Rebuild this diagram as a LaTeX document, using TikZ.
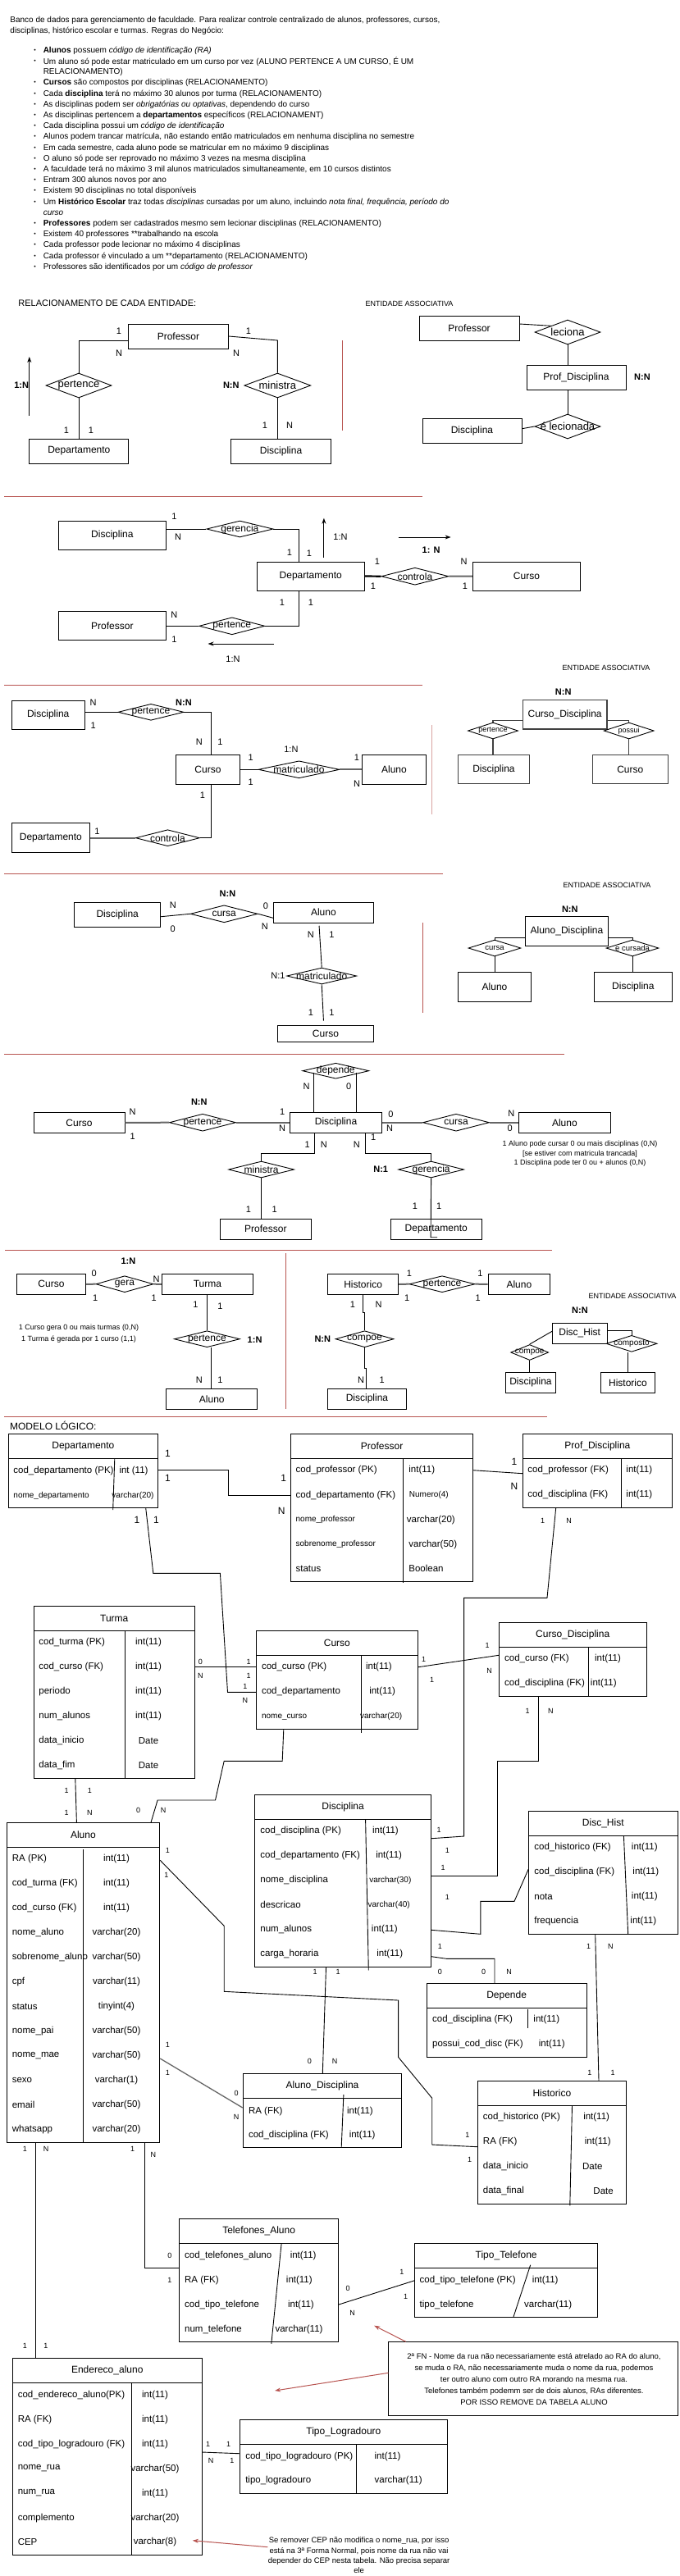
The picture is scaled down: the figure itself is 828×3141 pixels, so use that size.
\documentclass[tikz,border=0pt]{standalone}
\usepackage{fontspec}
\setmainfont{Liberation Sans}
\usetikzlibrary{shapes.geometric,arrows.meta}
\definecolor{redl}{HTML}{B85450}
\definecolor{pinkl}{HTML}{D9A3A1}
\definecolor{thkc}{HTML}{666666}
\newcounter{nn}
\newcommand\myfs[1]{\fontsize{#1}{#1}\selectfont}
\newcommand\mytx[4][]{\stepcounter{nn}\node[#1] (n\arabic{nn}) at (#2,#3) {#4};}
\newcommand\myent[7][]{\node[draw,inner sep=0,font=\myfs{12},minimum width={(#5-#3)*1pt},minimum height={(#6-#4)*1pt},#1] (#2) at ({(#3+#5)/2},{(#4+#6)/2}) {#7};}
\newcommand\mydia[7][12]{\node[draw,diamond,inner sep=0,minimum width=#5pt,minimum height=#6pt,label={[font=\myfs{#1},inner sep=0]center:#7}] (#2) at (#3,#4) {};}
\newcommand\mytab[6]{\node[draw,inner sep=0,minimum width={(#4-#2)*1pt},minimum height={(#5-#3)*1pt}] (#1) at ({(#2+#4)/2},{(#3+#5)/2}) {};
 \draw (#2,#3+30) -- (#4,#3+30);
 \node[font=\myfs{12}] (#1-t) at ({(#2+#4)/2},#3+15) {#6};}
\newcommand\myrow[4][]{\mytx[anchor=west,font=\myfs{11.5},#1]{#2}{#3}{#4}}
\newcommand\myc[4][]{\mytx[font=\myfs{9},#1]{#2}{#3}{#4}}
\tikzset{
  thk/.style={line width=2pt,draw=thkc},
  gbox/.style={line width=1.5pt,draw=black!75},
  rl/.style={line width=1pt,draw=redl},
  pl/.style={line width=1pt,draw=pinkl},
  arr/.style={-{Stealth[length=7pt,width=5pt]}},
  bul/.style={anchor=west,font=\myfs{10}},
  bd/.style={font=\bfseries\myfs{11}},
}
\begin{document}
\begin{tikzpicture}[x=1pt,y=-1pt,line width=0.9pt,every node/.style={font=\myfs{11},inner sep=0pt}]
\useasboundingbox (0,0) rectangle (828,3141);
\fill[white] (0,0) rectangle (828,3141);

% ---------------- header text
\mytx[bul]{12}{25}{Banco de dados para gerenciamento de faculdade. Para realizar controle centralizado de alunos, professores, cursos,}
\mytx[bul]{12}{37.7}{disciplinas, histórico escolar e turmas. Regras do Negócio:}
\foreach \yy in {61.7,74.9,101.3,114.5,127.7,140.9,154.1,167.3,180.5,193.7,206.9,220.1,233.3,246.5,272.9,286.1,299.3,312.5,325.7}{
  \node[font=\myfs{7}] (bl\yy) at (42.7,\yy) {•};}
\mytx[bul]{52.3}{61.7}{\textbf{Alunos} possuem \textit{código de identificação (RA)}}
\mytx[bul]{52.3}{74.9}{Um aluno só pode estar matriculado em um curso por vez (ALUNO PERTENCE A UM CURSO, É UM}
\mytx[bul]{52.3}{88.1}{RELACIONAMENTO)}
\mytx[bul]{52.3}{101.3}{\textbf{Cursos} são compostos por disciplinas (RELACIONAMENTO)}
\mytx[bul]{52.3}{114.5}{Cada \textbf{disciplina} terá no máximo 30 alunos por turma (RELACIONAMENTO)}
\mytx[bul]{52.3}{127.7}{As disciplinas podem ser \textit{obrigatórias ou optativas}, dependendo do curso}
\mytx[bul]{52.3}{140.9}{As disciplinas pertencem a \textbf{departamentos} específicos (RELACIONAMENT)}
\mytx[bul]{52.3}{154.1}{Cada disciplina possui um \textit{código de identificação}}
\mytx[bul]{52.3}{167.3}{Alunos podem trancar matrícula, não estando então matriculados em nenhuma disciplina no semestre}
\mytx[bul]{52.3}{180.5}{Em cada semestre, cada aluno pode se matricular em no máximo 9 disciplinas}
\mytx[bul]{52.3}{193.7}{O aluno só pode ser reprovado no máximo 3 vezes na mesma disciplina}
\mytx[bul]{52.3}{206.9}{A faculdade terá no máximo 3 mil alunos matriculados simultaneamente, em 10 cursos distintos}
\mytx[bul]{52.3}{220.1}{Entram 300 alunos novos por ano}
\mytx[bul]{52.3}{233.3}{Existem 90 disciplinas no total disponíveis}
\mytx[bul]{52.3}{246.5}{Um \textbf{Histórico Escolar} traz todas \textit{disciplinas} cursadas por um aluno, incluindo \textit{nota final, frequência, período do}}
\mytx[bul]{52.3}{259.7}{\textit{curso}}
\mytx[bul]{52.3}{272.9}{\textbf{Professores} podem ser cadastrados mesmo sem lecionar disciplinas (RELACIONAMENTO)}
\mytx[bul]{52.3}{286.1}{Existem 40 professores **trabalhando na escola}
\mytx[bul]{52.3}{299.3}{Cada professor pode lecionar no máximo 4 disciplinas}
\mytx[bul]{52.3}{312.5}{Cada professor é vinculado a um **departamento (RELACIONAMENTO)}
\mytx[bul]{52.3}{325.7}{Professores são identificados por um \textit{código de professor}}

% ---------------- section 1
\mytx[anchor=west,font=\myfs{11}]{22}{370}{RELACIONAMENTO DE CADA ENTIDADE:}
\mytx[font=\myfs{9}]{499}{370}{ENTIDADE ASSOCIATIVA}
\myent{p1}{156.4}{395}{278.5}{425}{Professor}
\myent{dep1}{35.8}{535}{156.9}{565}{Departamento}
\myent{dis1}{281.7}{535}{403.4}{565}{Disciplina}
\mydia[13]{pe1}{96}{470}{80}{30}{pertence}
\mydia[13]{mi1}{338.3}{470}{81}{30}{ministra}
\draw (p1.west |- 0,415) -| (pe1.north);
\draw (pe1.south) -- (pe1.south |- dep1.north);
\draw (p1.east |- 0,410) -- (338.3,415) -- (mi1.north);
\draw (mi1.south) -- (mi1.south |- dis1.north);
\coordinate (a1s) at (35.8,506.7); \coordinate (a1e) at (35.8,435);
\draw[arr] (a1s) -- (a1e);
\mytx{145}{404}{1}\mytx{145}{430.7}{N}\mytx{303}{404}{1}\mytx{288}{430.7}{N}
\mytx{81}{525}{1}\mytx{111}{525}{1}\mytx{323}{519}{1}\mytx{353}{519}{N}
\mytx[bd,anchor=east]{35.5}{470}{1:N}
\mytx[bd,anchor=east]{292}{470}{N:N}
\draw[rl] (417.8,415) -- (417.8,525);
\myent{p1b}{511}{385}{633}{415}{Professor}
\mydia[13]{le1}{692}{405}{80}{30}{leciona}
\myent{pd1}{642}{445}{763}{475}{Prof\_Disciplina}
\mydia[13]{el1}{692}{520}{80}{30}{é lecionada}
\myent{dis1b}{515}{510}{636}{540}{Disciplina}
\mytx[bd]{783}{460}{N:N}
\draw (p1b.east |- 0,395) -- (le1.north west);
\draw (le1.south) -- (le1.south |- pd1.north);
\draw (pd1.south -| el1.north) -- (el1.north);
\draw (dis1b.east |- 0,522.7) -- (el1.west);
\draw[rl] (5.3,605) -- (515,605);

% ---------------- section 2
\myent{dis2}{71}{635}{202.8}{670}{Disciplina}
\mydia{ge2}{292.4}{645}{81}{20}{gerencia}
\myent{dep2}{313}{685}{444.5}{720}{Departamento}
\mydia{co2}{505.9}{702.7}{82}{21}{controla}
\myent{cu2}{576.3}{685}{707.6}{720}{Curso}
\mydia{pe2}{282.8}{763.3}{80}{21}{pertence}
\myent{pr2}{71}{745.7}{202.8}{780}{Professor}
\draw (dis2.east |- ge2.west) -- (ge2.west);
\draw (ge2.east) -| ([xshift=51.5pt]dep2.north west);
\draw[line width=2.2pt] (dep2.east) -- (co2.west);
\draw[thk] (co2.east) -- (cu2.west);
\draw ([xshift=51.5pt]dep2.south west) |- (pe2.east);
\draw (pe2.west) -- (pr2.east |- pe2.west);
\coordinate (a2s) at (394.9,680); \coordinate (a2e) at (394.9,631.7);
\draw[arr] (a2s) -- (a2e);
\coordinate (a3s) at (485.6,655); \coordinate (a3e) at (549.6,655);
\draw[arr] (a3s) -- (a3e);
\coordinate (a4s) at (333.5,785); \coordinate (a4e) at (253.5,785);
\draw[arr] (a4s) -- (a4e);
\mytx{212.4}{630}{1}\mytx{217}{655}{N}\mytx{353}{673.3}{1}\mytx{377}{675}{1}
\mytx{415}{655}{1:N}\mytx[bd]{525.6}{671}{1: N}
\mytx{460}{685}{1}\mytx{455}{715}{1}\mytx{565.6}{685}{N}\mytx{567}{715}{1}
\mytx{344}{735}{1}\mytx{379}{735}{1}\mytx{212.4}{750}{N}\mytx{212.4}{780}{1}
\mytx{284}{804}{1:N}
\mytx[font=\myfs{9}]{739}{814}{ENTIDADE ASSOCIATIVA}
\draw[rl] (5,835.7) -- (515,835.7);

% ---------------- section 3
\myent{dis3}{14.4}{854}{103}{889}{Disciplina}
\mydia{pe3}{184}{868.3}{80}{20}{pertence}
\myent{cu3}{214.5}{920.7}{292.4}{956}{Curso}
\mydia{ma3}{364.5}{938.3}{99}{21}{matriculado}
\myent{al3}{441.8}{920.7}{519.2}{956}{Aluno}
\mydia{co3}{204.4}{1021.7}{78}{20}{controla}
\myent{dep3}{14.4}{1003.3}{109.4}{1039.3}{Departamento}
\draw (dis3.east |- pe3.west) -- (pe3.west);
\draw (pe3.east) -| ([xshift=43.2pt]cu3.north west);
\draw (cu3.east |- ma3.west) -- (ma3.west);
\draw[thk] (ma3.east) -- (al3.west |- ma3.east);
\draw ([xshift=43.2pt]cu3.south west) |- (co3.east);
\draw[thk,line width=1.6pt] (dep3.east |- co3.west) -- (co3.west);
\mytx{113.7}{856.7}{N}\mytx{113.7}{885}{1}\mytx[bd]{224}{856.7}{N:N}
\mytx{242.8}{905}{N}\mytx{268.4}{905}{1}\mytx{354.9}{914}{1:N}
\mytx{305.8}{923.3}{1}\mytx{305.8}{953.3}{1}\mytx{435}{923.3}{1}\mytx{435}{956}{N}
\mytx{247}{970}{1}\mytx{118.5}{1014}{1}
\draw[pl] (526,884) -- (526,993);
\draw[rl] (5,1065) -- (540,1065);
\mytx[bd]{686.7}{843.3}{N:N}
\myent[gbox]{cd3}{637.3}{853.3}{740}{889}{Curso\_Disciplina}
\mydia[9]{pe3b}{601}{891}{61}{20}{pertence}
\mydia[9]{po3b}{766.7}{891}{61}{20}{possui}
\myent[gbox]{dis3b}{558.3}{920.7}{645.7}{955.7}{Disciplina}
\myent[gbox]{cu3b}{722.3}{920.7}{814.3}{955.7}{Curso}
\draw[gbox] (cd3.west |- 0,878.3) -| (pe3b.north);
\draw[gbox] (cd3.east |- 0,878.3) -| (po3b.north);
\draw[gbox] (pe3b.south) -- (pe3b.south |- dis3b.north);
\draw[gbox] (po3b.south) -- (po3b.south |- cu3b.north);

% ---------------- section 4
\mytx[font=\myfs{9}]{740}{1079}{ENTIDADE ASSOCIATIVA}
\mytx[bd]{277.5}{1090}{N:N}
\myent{dis4}{90.7}{1100}{195.8}{1130.7}{Disciplina}
\mydia{cur4}{273.2}{1114.3}{82}{21}{cursa}
\myent{al4}{333.5}{1100}{455.2}{1125}{Aluno}
\mydia{ma4}{392.2}{1190}{85}{20}{matriculado}
\myent{cu4}{338.8}{1250.7}{455.2}{1270}{Curso}
\draw (dis4.east |- 0,1117.7) -- (cur4.west);
\draw (cur4.east) -- (al4.west |- 0,1119.3);
\draw ([xshift=56pt,yshift=-3.3pt]al4.south west) -- (ma4.north);
\draw (ma4.south) -- ([xshift=56.1pt,yshift=5.7pt]cu4.north west);
\mytx{210.8}{1103.3}{N}\mytx{210.8}{1132.3}{0}\mytx{324}{1105}{0}\mytx{322.8}{1130}{N}
\mytx{378.9}{1140}{N}\mytx{404.5}{1140}{1}\mytx[anchor=east]{348}{1190}{N:1}
\mytx{378.9}{1235}{1}\mytx{404.5}{1235}{1}
\draw[rl] (515,1125) -- (515,1235);
\draw[rl] (5,1285.7) -- (688,1285.7);
\mytx[bd]{694.8}{1108.3}{N:N}
\myent{ad4}{640.3}{1117.3}{741.7}{1153.3}{Aluno\_Disciplina}
\mydia[9.5]{cu4b}{603}{1156}{64}{20}{cursa}
\mydia[9.5]{ec4b}{771}{1156}{64}{20}{e cursada}
\myent{al4b}{558.7}{1185}{647.3}{1221}{Aluno}
\myent{dis4b}{724.7}{1185}{819}{1221}{Disciplina}
\draw (ad4.west |- 0,1143.3) -| (cu4b.north);
\draw (ad4.east |- 0,1143.3) -| (ec4b.north);
\draw (cu4b.south) -- (cu4b.south |- al4b.north);
\draw (ec4b.south) -- (ec4b.south |- dis4b.north);

% ---------------- section 5
\mydia{dp5}{409.3}{1305.7}{81}{19}{depende}
\myent{dis5}{353.8}{1356.7}{465.3}{1381}{Disciplina}
\myent{cu5}{41}{1356.7}{152}{1381}{Curso}
\mydia{pe5}{247}{1368.7}{81}{21}{pertence}
\mydia{cs5}{556}{1368.7}{81}{21}{cursa}
\myent{al5}{632.3}{1356.7}{744.4}{1381}{Aluno}
\mydia{mi5}{318.6}{1426}{80}{20}{ministra}
\mydia{ge5}{525.6}{1426}{80}{20}{gerencia}
\myent{pr5}{268.4}{1486}{379.4}{1511}{Professor}
\myent{dep5}{476.5}{1486}{587}{1511}{Departamento}
\draw ([xshift=28.8pt]dis5.north west) -- ++(0,-47.8);
\draw ([xshift=81.1pt]dis5.north west) -- ++(0,-47.8);
\draw[thk] (cu5.east) -- (pe5.west);
\draw[thk] (pe5.east) -- (dis5.west |- pe5.east);
\draw[thk] (dis5.east |- cs5.west) -- (cs5.west);
\draw[thk] (cs5.east) -- (al5.west |- cs5.east);
\draw ([xshift=30.4pt]dis5.south west) -- ++(0,25) -| (mi5.north);
\draw (mi5.south) -- (mi5.south |- pr5.north);
\draw ([xshift=91.8pt]dis5.south west) -- ++(0,25) -| (ge5.north);
\draw (ge5.south) -- ([xshift=49.1pt,yshift=2.7pt]dep5.south west) -- ([xshift=57pt,yshift=2.7pt]dep5.south west);
\mytx{373.5}{1325}{N}\mytx{425.3}{1325}{0}
\mytx{161.7}{1355.7}{N}\mytx{161.7}{1385.7}{1}\mytx[bd]{242.8}{1343.3}{N:N}
\mytx{344.2}{1355.7}{1}\mytx{344.2}{1376}{N}\mytx{476.5}{1359}{0}\mytx{475}{1376}{N}
\mytx{623.3}{1357.7}{N}\mytx{621.7}{1376}{0}
\mytx{374.6}{1396}{1}\mytx{394.9}{1396}{N}\mytx{434.9}{1396}{N}\mytx{455.2}{1386.7}{1}
\mytx[bd]{464.2}{1426}{N:1}
\mytx{303}{1475}{1}\mytx{334.6}{1475}{1}\mytx{505.9}{1471}{1}\mytx{535.2}{1471}{1}
\mytx[font=\myfs{9}]{707}{1395}{1 Aluno pode cursar 0 ou mais disciplinas (0,N)}
\mytx[font=\myfs{9}]{707}{1406.7}{[se estiver com matricula trancada]}
\mytx[font=\myfs{9}]{707}{1418.3}{1 Disciplina pode ter 0 ou + alunos (0,N)}
\draw[rl] (6.4,1524.3) -- (673.4,1524.3);
\draw[rl] (348,1528.3) -- (348,1718.3);

% ---------------- section 6
\mytx[bd]{156.4}{1537.3}{1:N}
\myent{cu6}{20.3}{1553.3}{104.6}{1578.3}{Curso}
\mydia{ge6}{152}{1565.7}{70}{20}{gera}
\myent{tu6}{197.4}{1553.3}{308.4}{1578.3}{Turma}
\mydia{pe6}{252.4}{1632.7}{80}{20}{pertence}
\myent{al6}{202.8}{1693.3}{313.8}{1718.3}{Aluno}
\draw[thk] (cu6.east) -- (ge6.west);
\draw[thk] (ge6.east) -- (tu6.west);
\draw (pe6.north |- tu6.south) -- (pe6.north);
\draw ([xshift=5.3pt]pe6.south) -- ([xshift=5.3pt]pe6.south |- al6.north);
\mytx{114.7}{1552.3}{0}\mytx{116.3}{1582.7}{1}\mytx{190.5}{1560}{N}\mytx{187.8}{1582.7}{1}
\mytx{238.5}{1591}{1}\mytx{268.4}{1592.7}{1}\mytx[bd]{310.6}{1633.3}{1:N}
\mytx{242.8}{1682.7}{N}\mytx{268.4}{1682.7}{1}
\mytx[font=\myfs{9}]{96}{1619}{1 Curso gera 0 ou mais turmas (0,N)}
\mytx[font=\myfs{9}]{96}{1633.3}{1 Turma é gerada por 1 curso (1,1)}
\myent{hi6}{399.7}{1553.3}{485.6}{1578.3}{Historico}
\mydia{pe6b}{539}{1565.7}{80}{20}{pertence}
\myent{al6b}{595}{1553.3}{670.8}{1578.3}{Aluno}
\mydia{cp6}{444.5}{1632.7}{71}{20}{compoe}
\myent{dis6}{399.7}{1693.3}{495.2}{1718.3}{Disciplina}
\draw[thk] (hi6.east) -- (pe6b.west);
\draw[thk] (pe6b.east) -- (al6b.west);
\draw ([xshift=43.3pt]hi6.south west) -- ++(0,21.7) -| (cp6.north);
\draw (cp6.south) -- ++(0,25) -| ([xshift=47.5pt]dis6.north west);
\mytx{499}{1552.3}{1}\mytx{496.3}{1582.7}{1}\mytx{585.4}{1552.3}{1}\mytx{582.7}{1582.7}{1}
\mytx{430}{1591}{1}\mytx{461.6}{1591}{N}\mytx[bd]{393.3}{1632.7}{N:N}
\mytx{440.2}{1682.7}{N}\mytx{465.8}{1682.7}{1}
\mytx[font=\myfs{9}]{771}{1580.7}{ENTIDADE ASSOCIATIVA}
\mytx[bd]{707}{1597.7}{N:N}
\myent{dh6}{673.4}{1613.3}{740.1}{1638.3}{Disc\_Hist}
\mydia[10]{cp6b}{645.7}{1649}{46}{19}{compoe}
\mydia[10]{cm6b}{770}{1638.3}{62}{20}{composto}
\myent{dis6b}{616.3}{1673.3}{677.7}{1698.3}{Disciplina}
\myent{hi6b}{732.1}{1673.3}{798.8}{1698.3}{Historico}
\draw (dh6.west |- 0,1623.3) -- (cp6b.north);
\draw (dh6.east |- 0,1622.3) -| (cm6b.north);
\draw (cp6b.south) -- (cp6b.south |- dis6b.north);
\draw ([xshift=-4.3pt]cm6b.south) -- ([xshift=-4.3pt]cm6b.south |- hi6b.north);
\draw[rl] (5,1727.3) -- (667,1727.3);

% ---------------- logical model
\mytx[anchor=west,font=\myfs{12}]{11.7}{1738.3}{MODELO LÓGICO:}
\mytab{tdep}{10.7}{1748.3}{192.1}{1838.3}{Departamento}
\draw (139.8,1778.3) -- (137.7,1841);
\myrow{16}{1793.3}{cod\_departamento (PK)}
\myrow{145.1}{1793.3}{int (11)}
\myrow[font=\myfs{10}]{16}{1824}{nome\_departamento}
\myrow[font=\myfs{10}]{136}{1824}{varchar(20)}

\mytab{tpro}{354.9}{1748.3}{576.3}{1928.3}{Professor}
\draw (491,1778.3) -- (491,1930);
\myrow{360.2}{1792.7}{cod\_professor (PK)}
\myrow{360.2}{1823.3}{cod\_departamento (FK)}
\myrow[font=\myfs{10}]{360.2}{1853.3}{nome\_professor}
\myrow[font=\myfs{10}]{360.2}{1883.3}{sobrenome\_professor}
\myrow{360.2}{1912.7}{status}
\myrow{497.9}{1792.7}{int(11)}
\myrow[font=\myfs{10}]{498.5}{1823.3}{Numero(4)}
\myrow{495.5}{1853.3}{varchar(20)}
\myrow{497.9}{1883.3}{varchar(50)}
\myrow{497.9}{1912.7}{Boolean}

\mytab{tpd}{637.7}{1748.3}{819.1}{1838.3}{Prof\_Disciplina}
\draw (757.7,1778.3) -- (757.7,1838.3);
\myrow{643}{1792.7}{cod\_professor (FK)}
\myrow{763}{1792.7}{int(11)}
\myrow{643}{1822.7}{cod\_disciplina (FK)}
\myrow{763}{1822.7}{int(11)}

\mytab{ttu}{41.1}{1958.3}{237.5}{2168.3}{Turma}
\draw (152.1,1988.3) -- (152.1,2168.3);
\myrow{47}{2002.7}{cod\_turma (PK)}
\myrow{47}{2032.7}{cod\_curso (FK)}
\myrow{47}{2062.7}{periodo}
\myrow{47}{2092.7}{num\_alunos}
\myrow{47}{2122.7}{data\_inicio}
\myrow{47}{2152.7}{data\_fim}
\foreach \yy/\tt in {2002.7/int(11),2032.7/int(11),2062.7/int(11),2092.7/int(11),2122.7/Date,2152.7/Date}{
  \node[font=\myfs{11.5}] (tu\yy) at (181,\yy) {\tt};}

\mytab{tcur}{312.2}{1988.3}{509.6}{2108.3}{Curso}
\draw (440.2,2018.3) -- (440.2,2113.3);
\myrow{318.6}{2032.7}{cod\_curso (PK)}
\myrow{445.6}{2032.7}{int(11)}
\myrow{318.6}{2062.7}{cod\_departamento}
\myrow{449.8}{2062.7}{int(11)}
\myrow[font=\myfs{10}]{318.6}{2093.3}{nome\_curso}
\myrow[font=\myfs{10}]{438.6}{2093.3}{varchar(20)}

\mytab{tcd}{608.3}{1978.3}{788.2}{2068.3}{Curso\_Disciplina}
\draw (717.7,2008.3) -- (717.7,2068.3);
\myrow{614.7}{2022.7}{cod\_curso (FK)}
\myrow{724.7}{2022.7}{int(11)}
\myrow{614.7}{2052.7}{cod\_disciplina (FK)}
\myrow{719.5}{2052.7}{int(11)}

\mytab{tal}{8}{2222.3}{194.8}{2612.3}{Aluno}
\draw (101.4,2255) -- (101.4,2612.3);
\foreach \yy/\aa/\bb in {2266.7/RA (PK)/int(11),2296.7/cod\_turma (FK)/int(11),2326.7/cod\_curso (FK)/int(11),2356.7/nome\_aluno/varchar(20),2386.7/sobrenome\_aluno/varchar(50),2416.7/cpf/varchar(11),2446.7/status/tinyint(4),2476.7/nome\_pai/varchar(50),2506.7/nome\_mae/varchar(50),2536.7/sexo/varchar(1),2566.7/email/varchar(50),2596.7/whatsapp/varchar(20)}{
  \node[anchor=west,font=\myfs{11.5}] (ala\yy) at (14.4,\yy) {\aa};
  \node[font=\myfs{11.5}] (alb\yy) at (142,\yy) {\bb};}

\mytab{tdis}{310.6}{2188.3}{525.6}{2398.3}{Disciplina}
\draw (445.6,2218.3) -- (449.3,2402.3);
\myrow{317}{2232.7}{cod\_disciplina (PK)}
\myrow{317}{2262.7}{cod\_departamento (FK)}
\myrow{317}{2292.7}{nome\_disciplina}
\myrow{317}{2322.7}{descricao}
\myrow{317}{2352.7}{num\_alunos}
\myrow{317}{2382.7}{carga\_horaria}
\myrow{453.6}{2232.7}{int(11)}
\myrow{457.8}{2262.7}{int(11)}
\myrow[font=\myfs{10}]{449.8}{2292.7}{varchar(30)}
\myrow[font=\myfs{10}]{448.2}{2322.7}{varchar(40)}
\myrow{452.5}{2352.7}{int(11)}
\myrow{458.9}{2382.7}{int(11)}

\mytab{tdh}{644.6}{2208.3}{826}{2358.3}{Disc\_Hist}
\draw (760.4,2238.3) -- (765.7,2358.3);
\myrow{651}{2252.7}{cod\_historico (FK)}
\myrow{651}{2282.7}{cod\_disciplina (FK)}
\myrow{651}{2312.7}{nota}
\myrow{651}{2342.7}{frequencia}
\myrow{769.5}{2252.7}{int(11)}
\myrow{771}{2282.7}{int(11)}
\myrow{769.5}{2312.7}{int(11)}
\myrow{768}{2342.7}{int(11)}

\mytab{tdp}{520.3}{2418.3}{715}{2508.3}{Depende}
\draw (643,2450) -- (643,2473.3);
\myrow{526.7}{2462.7}{cod\_disciplina (FK)}
\myrow{650}{2462.7}{int(11)}
\myrow{526.7}{2492.7}{possui\_cod\_disc (FK)}
\myrow{656.4}{2492.7}{int(11)}

\mytab{tad}{296.2}{2528.3}{489.9}{2618.3}{Aluno\_Disciplina}
\draw (418.9,2554) -- (416.2,2618.3);
\myrow{302.6}{2574}{RA (FK)}
\myrow{422.6}{2574}{int(11)}
\myrow{302.6}{2603.3}{cod\_disciplina (FK)}
\myrow{425.3}{2603.3}{int(11)}

\mytab{thi}{582.7}{2537.3}{763.1}{2687.3}{Historico}
\draw (697.5,2567.3) -- (694.8,2689.3);
\myrow{588.5}{2581.7}{cod\_historico (PK)}
\myrow{588.5}{2611.7}{RA (FK)}
\myrow{588.5}{2641.7}{data\_inicio}
\myrow{588.5}{2671.7}{data\_final}
\myrow{710.8}{2581.7}{int(11)}
\myrow{712.4}{2611.7}{int(11)}
\myrow{709.7}{2641.7}{Date}
\myrow{723}{2671.7}{Date}

\mytab{tte}{218.8}{2705.7}{412.5}{2855.7}{Telefones\_Aluno}
\draw (343.1,2735.7) -- (330.8,2857.7);
\myrow{224.7}{2750}{cod\_telefones\_aluno}
\myrow{224.7}{2780}{RA (FK)}
\myrow{224.7}{2810}{cod\_tipo\_telefone}
\myrow{224.7}{2840}{num\_telefone}
\myrow{353.3}{2750}{int(11)}
\myrow{348.5}{2780}{int(11)}
\myrow{350.6}{2810}{int(11)}
\myrow{335.1}{2840}{varchar(11)}

\mytab{ttt}{505.9}{2735}{728.4}{2825}{Tipo\_Telefone}
\draw (646.7,2761.7) -- (626,2825);
\myrow{511.2}{2780}{cod\_tipo\_telefone (PK)}
\myrow{648.3}{2780}{int(11)}
\myrow{511.2}{2810}{tipo\_telefone}
\myrow{638.7}{2810}{varchar(11)}

\mytab{ten}{15.5}{2875}{246}{3115.7}{Endereco\_aluno}
\draw (160.1,2905) -- (160.1,3115.7);
\foreach \yy/\aa/\bb in {2920/cod\_endereco\_aluno(PK)/int(11),2950/RA (FK)/int(11),2980/cod\_tipo\_logradouro (FK)/int(11),3010/nome\_rua/varchar(50),3040/num\_rua/int(11),3070/complemento/varchar(20),3099.5/CEP/varchar(8)}{
  \node[anchor=west,font=\myfs{11.5}] (ena\yy) at (21.3,\yy) {\aa};
  \node[font=\myfs{11.5}] (enb\yy) at (189,\yy) {\bb};}

\mytab{ttl}{292.4}{2950.7}{545.4}{3040.7}{Tipo\_Logradouro}
\draw (434.9,2980.7) -- (434.9,3040.7);
\myrow{298.8}{2995}{cod\_tipo\_logradouro (PK)}
\myrow{456.2}{2995}{int(11)}
\myrow{298.8}{3024.3}{tipo\_logradouro}
\myrow{456.2}{3024.3}{varchar(11)}

% logical connectors
\draw (tdep.east |- 0,1792.3) -| (278.5,1823.3) -- (tpro.west |- 0,1823.3);
\draw (tpro.east |- 0,1792.7) -- (tpd.west |- 0,1796.7);
\draw (tdep.south -| 177.7,0) -- (186.8,1918.3) -- (268.4,1918.3) -- (277.5,2063.3) -- (tcur.west |- 0,2063.3);
\draw (tpd.south -| 677.7,0) -- (667,1948.3) -- (565.6,1948.3) -- (565.6,2239) -- (tdis.east |- 0,2241.7);
\draw (ttu.east |- 0,2032.7) -- (tcur.west |- 0,2032.7);
\draw (tcur.east |- 0,2032.7) -- (tcd.west |- 0,2018.3);
\draw (tcur.south -| 345.8,0) -- (344.2,2147.3) -- (273.2,2147.3) -- (262.5,2195) -- (192.1,2195) -- (tal.north -| 184.1,0);
\draw (tcd.south -| 656.4,0) -- (656.4,2147.3) -- (606.7,2147.3) -- (606.7,2287.7) -- (tdis.east |- 0,2287.7);
\draw (ttu.south -| 91.8,0) -- (tal.north -| 93.4,0);
\draw (tdis.east |- 0,2353.3) -- (585.9,2358.3) -- (585.9,2318.3) -- (627,2318.3) -- (tdh.west |- 0,2279.3);
\draw (tdis.east |- 0,2385.7) -- (544.3,2388.3) -| (tdp.north -| 603,0);
\draw (tdis.south -| 397.5,0) -- (tad.north -| 393.3,0);
\draw[draw=thkc,line width=1.3pt] (tal.east |- 0,2510) -- (tad.west |- 0,2570);
\draw (tal.east |- 0,2268.3) -- (273.2,2348.3) -- (273.2,2428.3) -- (485.6,2439) -- (485.6,2508.3) -- (526.7,2558.3) -- (526.7,2615) -- (thi.west |- 0,2617.7);
\draw (tdh.south -| 725.7,0) -- (thi.north -| 730,0);
\draw (tal.south -| 43.8,0) -- (ten.north -| 43.8,0);
\draw (tal.south -| 176.1,0) -- (176.1,2765) -- (tte.west |- 0,2765);
\draw (tte.east |- 0,2810) -- (ttt.west |- 0,2780.7);
\draw (ten.east |- 0,2990) -- (ttl.west |- 0,2991.7);

% logical labels
\mytx[font=\myfs{12}]{204.4}{1772.7}{1}\mytx[font=\myfs{12}]{204.4}{1802.7}{1}
\mytx[font=\myfs{12}]{345.8}{1802.7}{1}\mytx[font=\myfs{12}]{343.1}{1842.7}{N}
\mytx[font=\myfs{12}]{627}{1782.7}{1}\mytx[font=\myfs{12}]{627}{1812.7}{N}
\mytx[font=\myfs{12}]{167}{1853.3}{1}\mytx[font=\myfs{12}]{190.5}{1853.3}{1}
\myc{661.7}{1854}{1}\myc{693.7}{1854}{N}
\myc{244.4}{2026}{0}\myc{244.4}{2043.3}{N}\myc{303}{2026}{1}\myc{303}{2043.3}{1}
\myc{298.8}{2056.7}{1}\myc{298.8}{2073.3}{N}
\myc{516.5}{2023.3}{1}\myc{526.7}{2048.3}{1}\myc{594}{2006.7}{1}\myc{596.6}{2037.3}{N}
\myc{643}{2086.7}{1}\myc{671.3}{2086.7}{N}
\myc{81.1}{2183.3}{1}\myc{109.4}{2183.3}{1}\myc{81.1}{2210.7}{1}\myc{109.4}{2210.7}{N}
\myc{168.6}{2207.7}{0}\myc{199}{2207.7}{N}
\myc{535.2}{2231.7}{1}\myc{545.4}{2256.7}{1}\myc{540}{2277.7}{1}\myc{545.4}{2313.3}{1}
\myc{204.4}{2256.7}{1}\myc{202.8}{2286.7}{1}
\myc{536.3}{2373.3}{1}\myc{536.3}{2404}{0}\myc{589.7}{2404}{0}\myc{620.6}{2404}{N}
\myc{384.2}{2404}{1}\myc{412}{2404}{1}\myc{377.3}{2513.3}{0}\myc{408.2}{2513.3}{N}
\myc{717.7}{2373.3}{1}\myc{744.4}{2373.3}{N}\myc{718.8}{2527.7}{1}\myc{747}{2527.7}{1}
\myc{204.4}{2493.3}{1}\myc{204.4}{2527.7}{1}\myc{288.2}{2552.7}{0}\myc{288.2}{2581}{N}
\myc{569.9}{2603.3}{1}\myc{572.6}{2633.3}{1}
\myc{30.4}{2620.7}{1}\myc{56}{2620.7}{N}\myc{161.7}{2620.7}{1}\myc{186.8}{2627.7}{N}
\myc{207}{2750}{0}\myc{207}{2780}{1}
\myc{424.2}{2790.7}{0}\myc{429.6}{2820.7}{N}\myc{489.9}{2770.7}{1}\myc{494.7}{2800.7}{1}
\myc{30.4}{2860.7}{1}\myc{56}{2860.7}{1}
\myc{253.5}{2980}{1}\myc{278.5}{2980.7}{1}\myc{257.2}{3000.7}{N}\myc{282.8}{3000.7}{1}

% notes
\node[draw,minimum width=352.1pt,minimum height=89.3pt] (note1) at (649.95,2900.35) {};
\node[font=\fontsize{9.5}{14.1}\selectfont,align=center] (note1t) at (651,2901) {2ª FN - Nome da rua não necessariamente está atrelado ao RA do aluno,\\se muda o RA, não necessariamente muda o nome da rua, podemos\\ter outro aluno com outro RA morando na mesma rua.\\Telefones também podemm ser de dois alunos, RAs diferentes.\\POR ISSO REMOVE DA TABELA ALUNO};
\coordinate (ar1) at (335.1,2915);
\draw[rl,arr] (note1.west |- 0,2893.3) -- (ar1);
\coordinate (ar2) at (456.2,2835.7);
\draw[rl,arr] ([xshift=21.3pt]note1.north west) -- (ar2);
\node[font=\fontsize{9.5}{12.2}\selectfont,align=center] (note2) at (437.6,3115.8) {Se remover CEP não modifica o nome\_rua, por isso\\está na 3ª Forma Normal, pois nome da rua não vai\\depender do CEP nesta tabela. Não precisa separar\\ele};
\coordinate (ar3) at (234.8,3097.7);
\draw[rl,arr] (note2.west |- 0,3105.7) -- (ar3);
\end{tikzpicture}
\end{document}
